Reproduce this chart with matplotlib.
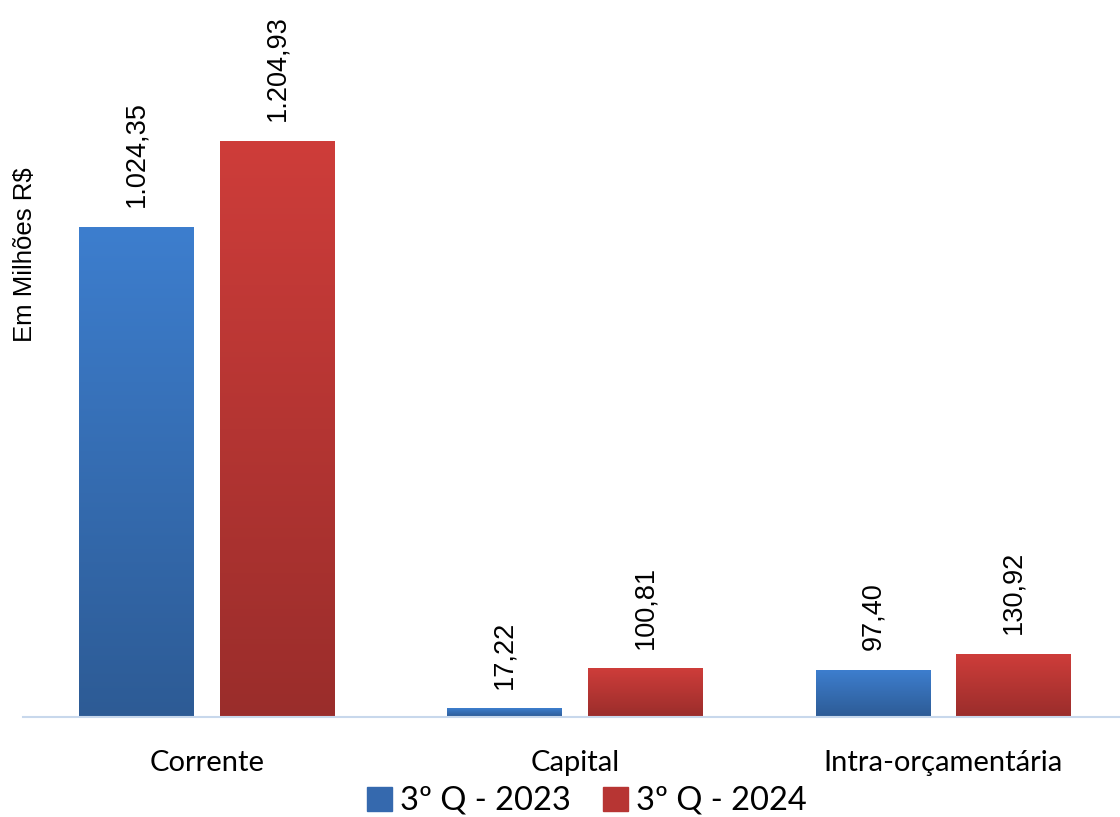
import numpy as np
import matplotlib.pyplot as plt
from matplotlib.colors import LinearSegmentedColormap

categories = ['Corrente', 'Capital', 'Intra-orçamentária']
series = ['3º Q - 2023', '3º Q - 2024']
v2023 = [1024.35, 17.22, 97.40]
v2024 = [1204.93, 100.81, 130.92]
labels2023 = ['1.024,35', '17,22', '97,40']
labels2024 = ['1.204,93', '100,81', '130,92']

blue_cmap = LinearSegmentedColormap.from_list('b', ['#2D5B95', '#3D7ECE'])
red_cmap = LinearSegmentedColormap.from_list('r', ['#9A2D2B', '#CE3D3A'])

fig = plt.figure(figsize=(11.2, 8.17), dpi=100)
ax = fig.add_axes([23 / 1120, 1 - 717 / 817, 1 - 23 / 1120, 717 / 817])

x = np.arange(len(categories))
w = 0.312
off = 0.191
grad = np.linspace(0, 1, 256).reshape(-1, 1)


def gradient_bars(xs, vals, cmap, labels):
    bars = ax.bar(xs, vals, w, color='none', edgecolor='none', zorder=2)
    for b, lab in zip(bars, labels):
        x0, y0 = b.get_x(), b.get_y()
        x1, y1 = x0 + b.get_width(), y0 + b.get_height()
        ax.imshow(grad, extent=(x0, x1, y0, y1), origin='lower', cmap=cmap,
                  aspect='auto', zorder=2)
        ax.text(x0 + b.get_width() / 2, y1 + 42, lab, rotation=90,
                ha='center', va='bottom', fontsize=19.5,
                family='Liberation Sans', color='black')
    return bars


gradient_bars(x - off, v2023, blue_cmap, labels2023)
gradient_bars(x + off, v2024, red_cmap, labels2024)

ax.set_xlim(-0.5, 2.48)
ax.set_ylim(0, 1500)
for s in ['top', 'right', 'left']:
    ax.spines[s].set_visible(False)
ax.spines['bottom'].set_color('#C8D8EC')
ax.spines['bottom'].set_linewidth(1.5)
ax.set_yticks([])
ax.set_xticks(x)
ax.set_xticklabels(categories, fontsize=21, family='Lato')
ax.tick_params(axis='x', length=0, pad=24)

fig.text(25 / 1120, 1 - 255 / 817, 'Em Milhões R$', rotation=90, ha='center',
         va='center', fontsize=18.5, family='Liberation Sans')

# legend
handles = [plt.Rectangle((0, 0), 1, 1, color='#3569AE'),
           plt.Rectangle((0, 0), 1, 1, color='#B73533')]
fig.legend(handles, series, loc='center', bbox_to_anchor=(0.524, 1 - 801 / 817),
           ncol=2, frameon=False, prop={'family': 'Lato', 'size': 23.5},
           handlelength=0.75, handleheight=0.75, handletextpad=0.25, columnspacing=1.0)

fig.savefig('out.png', dpi=100)
